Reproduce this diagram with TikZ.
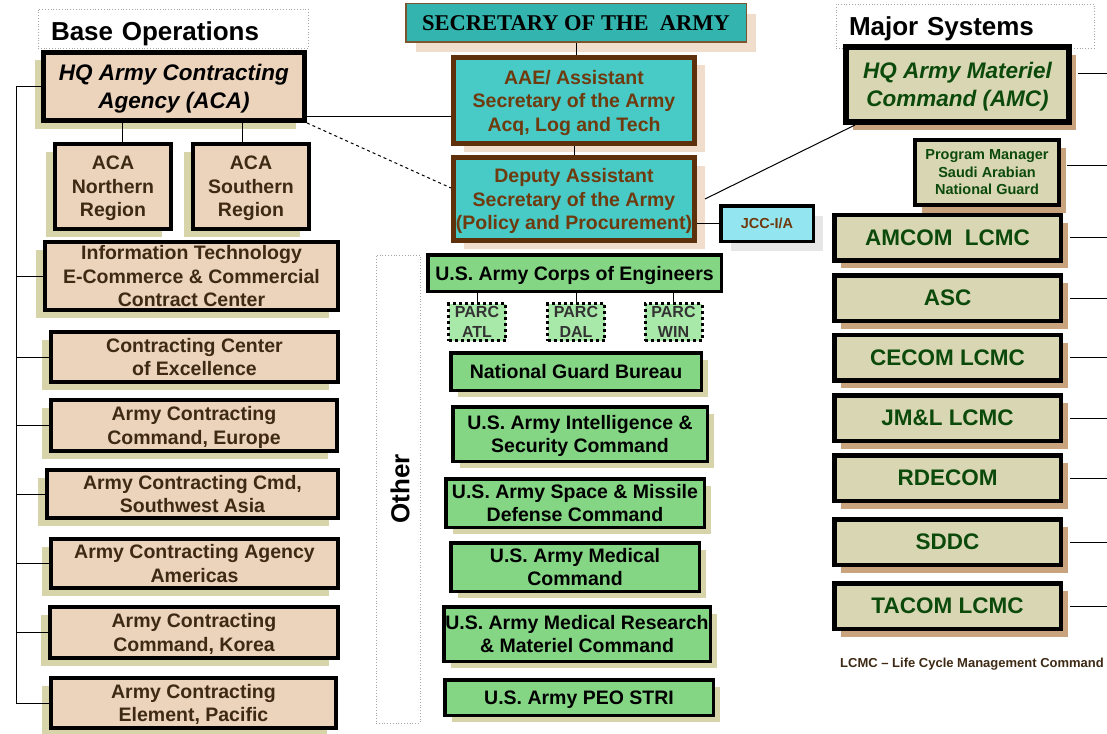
\documentclass[tikz,border=0pt]{standalone}
\usepackage{fontspec}
\setmainfont{Liberation Sans}
\newfontfamily\armyserif{Liberation Serif}
\usetikzlibrary{shadows}

\definecolor{acafill}{HTML}{EBD3BC}
\definecolor{acaink}{HTML}{3E2A14}
\definecolor{acashade}{HTML}{D6D4A8}
\definecolor{secfill}{HTML}{33B4AF}
\definecolor{secline}{HTML}{7A5530}
\definecolor{asafill}{HTML}{48CBC7}
\definecolor{asaline}{HTML}{5E300C}
\definecolor{asaink}{HTML}{6E3A0E}
\definecolor{asashade}{HTML}{F0DDCB}
\definecolor{jccfill}{HTML}{93E5F0}
\definecolor{jccshade}{HTML}{E6E6E6}
\definecolor{otherfill}{HTML}{84D684}
\definecolor{parcfill}{HTML}{A8E8A8}
\definecolor{amcfill}{HTML}{D9D6B3}
\definecolor{amcink}{HTML}{0C4A0C}
\definecolor{amcshade}{HTML}{C9A27E}

\begin{document}
\begin{tikzpicture}[x=1pt, y=-1pt,
  boxsize/.style 2 args={minimum width=#1pt, minimum height=#2pt},
  link/.style={line width=1pt},
  grouplabel/.style={draw=gray!70, dotted, line width=0.8pt, inner sep=0pt, inner xsep=13pt,
    text depth=0pt, font=\fontsize{26}{30}\selectfont\bfseries, align=left},
  basebox/.style={draw, line width=4pt, fill=acafill, text=acaink, inner sep=0pt, align=center,
    text depth=0pt, font=\fontsize{19.5}{23.5}\selectfont\bfseries,
    drop shadow={shadow xshift=-9pt, shadow yshift=-8pt, fill=acashade, opacity=1}},
  secbox/.style={draw=secline, line width=1.5pt, fill=secfill, inner sep=0pt, text depth=0pt,
    font=\armyserif\fontsize{22.5}{26}\selectfont\bfseries,
    drop shadow={shadow xshift=10pt, shadow yshift=-10pt, fill=asashade, opacity=1}},
  asabox/.style={draw=asaline, line width=5pt, fill=asafill, text=asaink, inner sep=0pt, align=center,
    text depth=0pt, font=\fontsize{19.5}{23.5}\selectfont\bfseries,
    drop shadow={shadow xshift=10pt, shadow yshift=-8pt, fill=asashade, opacity=1}},
  jccbox/.style={draw, line width=3.5pt, fill=jccfill, text=asaink, inner sep=0pt, text depth=0pt,
    font=\fontsize{14.5}{17}\selectfont\bfseries,
    drop shadow={shadow xshift=10pt, shadow yshift=-10pt, fill=jccshade, opacity=1}},
  otherbox/.style={draw, line width=3.5pt, fill=otherfill, text=black, inner sep=0pt, align=center,
    text depth=0pt, font=\fontsize{19.5}{23.5}\selectfont\bfseries},
  othershadow/.style={drop shadow={shadow xshift=7pt, shadow yshift=-7pt, fill=acashade, opacity=1}},
  parcbox/.style={draw, line width=3pt, dash pattern=on 3pt off 3pt, fill=parcfill, text=black!80,
    inner sep=0pt, align=center, text depth=0pt, boxsize={57}{37}, font=\fontsize{16}{20}\selectfont\bfseries},
  amcbox/.style={draw, line width=4.5pt, fill=amcfill, text=amcink, inner sep=0pt, align=center,
    text depth=0pt, font=\fontsize{22.5}{27.5}\selectfont\bfseries,
    drop shadow={shadow xshift=7pt, shadow yshift=-8pt, fill=amcshade, opacity=1}}]

\useasboundingbox (0,0) rectangle (1107,733);

% group headers
\node[grouplabel, boxsize={270}{39}, text width=244pt, text height=23.6pt] (basehdr) at (173,28.5) {Base Operations};
\node[grouplabel, boxsize={258}{44}, text width=232pt, text height=19.6pt] (majorhdr) at (965,26) {Major Systems};
\node[grouplabel, boxsize={44}{468}] (otherhdr) at (398,489) {};
\node[font=\fontsize{26}{30}\selectfont\bfseries, rotate=90] (othertxt) at (400,489) {Other};

% -------- Base Operations --------
\node[basebox, line width=5pt, boxsize={261}{68}, text=black,
  font=\fontsize{22.5}{27.5}\selectfont\bfseries\itshape] (aca) at (174,86.5) {HQ Army Contracting\\Agency (ACA)};
\node[basebox, boxsize={116}{85}] (acanorth) at (113,186.5) {ACA\\Northern\\Region};
\node[basebox, boxsize={116}{85}] (acasouth) at (251,186.5) {ACA\\Southern\\Region};
\node[basebox, boxsize={293}{68}] (itec) at (191.5,276) {Information Technology\\E-Commerce \& Commercial\\Contract Center};
\node[basebox, boxsize={287}{50}] (ccoe) at (194.5,357) {Contracting Center\\of Excellence};
\node[basebox, boxsize={286}{51}] (acceur) at (194,425.5) {Army Contracting\\Command, Europe};
\node[basebox, boxsize={291}{48}] (accswa) at (192.5,494) {Army Contracting Cmd,\\Southwest Asia};
\node[basebox, boxsize={287}{49}] (acaamer) at (194.5,563.5) {Army Contracting Agency\\Americas};
\node[basebox, boxsize={288}{51}] (acckor) at (194,632.5) {Army Contracting\\Command, Korea};
\node[basebox, boxsize={285}{50}] (acepac) at (193.5,703) {Army Contracting\\Element, Pacific};

% -------- Secretariat --------
\node[secbox, boxsize={340.5}{38.5}] (secarmy) at (576,23) {SECRETARY OF THE\ \ ARMY};
\node[asabox, boxsize={241}{86}] (asaalt) at (574,100.5) {AAE/ Assistant\\Secretary of the Army\\Acq, Log and Tech};
\node[asabox, boxsize={241}{83}] (dasapp) at (574,199) {Deputy Assistant\\Secretary of the Army\\(Policy and Procurement)};
\node[jccbox, boxsize={92.5}{35.5}] (jccia) at (767,223.5) {JCC-I/A};

% -------- Other --------
\node[otherbox, boxsize={293.5}{36.5}] (usace) at (574.5,273) {U.S. Army Corps of Engineers};
\node[parcbox] (parcatl) at (477,322) {PARC\\ATL};
\node[parcbox] (parcdal) at (576,322) {PARC\\DAL};
\node[parcbox] (parcwin) at (673.5,322) {PARC\\WIN};
\node[otherbox, othershadow, boxsize={250.5}{37.5}] (ngb) at (576,371.5) {National Guard Bureau};
\node[otherbox, othershadow, boxsize={254.5}{54.5}] (inscom) at (580,434) {U.S. Army Intelligence \&\\Security Command};
\node[otherbox, othershadow, boxsize={258.5}{48.5}] (smdc) at (575,503) {U.S. Army Space \& Missile\\Defense Command};
\node[otherbox, othershadow, boxsize={248.5}{48.5}] (medcom) at (575,567) {U.S. Army Medical\\Command};
\node[otherbox, othershadow, boxsize={266.5}{54.5}] (mrmc) at (577,634) {U.S. Army Medical Research\\\& Materiel Command};
\node[otherbox, othershadow, boxsize={268.5}{35.5}] (peostri) at (579,697.5) {U.S. Army PEO STRI};

% -------- Major Systems --------
\node[amcbox, line width=6pt, boxsize={223}{75},
  font=\fontsize{22.5}{27.5}\selectfont\bfseries\itshape] (amchq) at (957.5,84.5) {HQ Army Materiel\\Command (AMC)};
\node[amcbox, line width=4pt, boxsize={144}{65},
  font=\fontsize{14.5}{17.5}\selectfont\bfseries] (pmsang) at (987,172.5) {Program Manager\\Saudi Arabian\\National Guard};
\node[amcbox, boxsize={226.5}{45.5}] (amcom) at (947.5,237.5) {AMCOM\ \ LCMC};
\node[amcbox, boxsize={226.5}{45.5}] (asc) at (947.5,298) {ASC};
\node[amcbox, boxsize={226.5}{45.5}] (cecom) at (947.5,357.5) {CECOM LCMC};
\node[amcbox, boxsize={226.5}{45.5}] (jml) at (947.5,418) {JM\&L LCMC};
\node[amcbox, boxsize={226.5}{45.5}] (rdecom) at (947.5,478) {RDECOM};
\node[amcbox, boxsize={226.5}{45.5}] (sddc) at (947.5,542) {SDDC};
\node[amcbox, boxsize={226.5}{45.5}] (tacom) at (947.5,606) {TACOM LCMC};
\node[font=\fontsize{13}{15}\selectfont\bfseries, text=acaink, inner sep=0pt, anchor=west] (lcmcnote) at (840,664) {LCMC -- Life Cycle Management Command};

% -------- connectors --------
\coordinate (leftbus) at (16,0);
\coordinate (rightedge) at (1107,0);
\draw[link] (aca.west -| leftbus) -- (acepac.west -| leftbus);
\draw[link] (aca.west) -- (aca.west -| leftbus);
\draw[link] (itec.west) -- (itec.west -| leftbus);
\draw[link] (ccoe.west) -- (ccoe.west -| leftbus);
\draw[link] (acceur.west) -- (acceur.west -| leftbus);
\draw[link] (accswa.west) -- (accswa.west -| leftbus);
\draw[link] (acaamer.west) -- (acaamer.west -| leftbus);
\draw[link] (acckor.west) -- (acckor.west -| leftbus);
\draw[link] (acepac.west) -- (acepac.west -| leftbus);

\coordinate (northlink) at ([xshift=9pt]acanorth.north);
\coordinate (southlink) at ([xshift=-9pt]acasouth.north);
\draw[link] (northlink) -- (northlink |- aca.south);
\draw[link] (southlink) -- (southlink |- aca.south);

\draw[link] (secarmy.south) -- (secarmy.south |- asaalt.north);
\draw[link] (asaalt.south) -- (dasapp.north);
\coordinate (acaout) at ([yshift=6pt]aca.south east);
\draw[link] (acaout) -- (acaout -| asaalt.west);
\draw[link, dashed] (aca.south east) -- ([yshift=11pt]dasapp.west);
\draw[link] ([xshift=8pt]dasapp.east) -- ([xshift=12pt]amchq.south west);
\draw[link] (jccia.west -| dasapp.east) -- (jccia.west);

\draw[link] (parcatl.north) -- (parcatl.north |- usace.south);
\draw[link] (parcdal.north) -- (parcdal.north |- usace.south);
\draw[link] (parcwin.north) -- (parcwin.north |- usace.south);

% right side stubs
\coordinate (amcout) at ([xshift=6pt, yshift=11pt]amchq.east);
\coordinate (pmout) at ([xshift=6pt, yshift=7pt]pmsang.east);
\draw[link] (amcout) -- (amcout -| rightedge);
\draw[link] (pmout) -- (pmout -| rightedge);
\draw[link] ([xshift=7pt]amcom.east) -- (amcom.east -| rightedge);
\draw[link] ([xshift=7pt]asc.east) -- (asc.east -| rightedge);
\draw[link] ([xshift=7pt]cecom.east) -- (cecom.east -| rightedge);
\draw[link] ([xshift=7pt]jml.east) -- (jml.east -| rightedge);
\draw[link] ([xshift=7pt]rdecom.east) -- (rdecom.east -| rightedge);
\draw[link] ([xshift=7pt]sddc.east) -- (sddc.east -| rightedge);
\draw[link] ([xshift=7pt]tacom.east) -- (tacom.east -| rightedge);
\end{tikzpicture}
\end{document}
